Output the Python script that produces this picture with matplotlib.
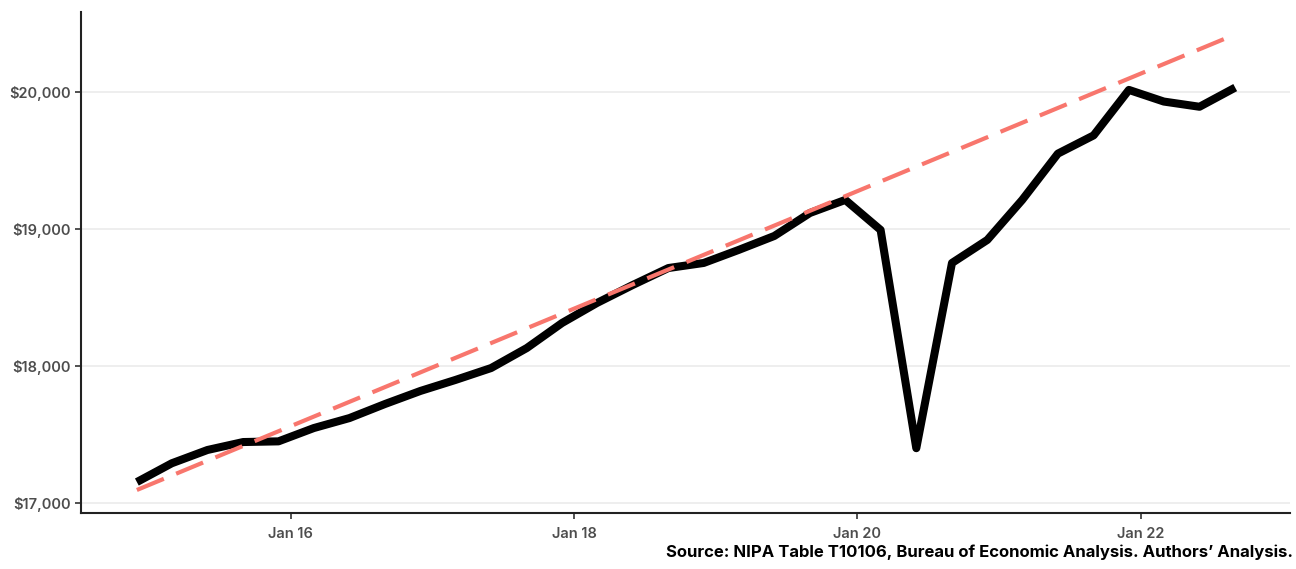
import pandas as pd
import matplotlib.pyplot as plt
import matplotlib.dates as mdates
from matplotlib.ticker import FuncFormatter

dates = pd.date_range("2014-12-01", periods=32, freq="3MS")
gdp = [17153, 17290, 17387, 17445, 17450, 17547, 17620, 17723,
       17818, 17898, 17985, 18131, 18314, 18460, 18591, 18715,
       18752, 18847, 18949, 19117, 19212, 18993, 17400, 18752,
       18920, 19212, 19550, 19683, 20015, 19930, 19892, 20032]

# pre-pandemic linear trend, drawn between first and last quarter
trend_ends = [17095, 20420]

plt.rcParams['font.family'] = ['Inter', 'DejaVu Sans']

fig = plt.figure(figsize=(12.96, 5.69), dpi=100)
ax = fig.add_axes([0.0625, 0.0984, 0.9325, 0.8806])

ax.plot(dates, gdp, color='black', linewidth=5.8, solid_joinstyle='round',
        solid_capstyle='butt', zorder=3)
ax.plot([dates[0], dates[-1]], trend_ends, color='#F8766D', linewidth=3,
        dashes=(7, 3.2), zorder=4)

ax.set_xlim(pd.Timestamp("2014-07-10"), pd.Timestamp("2023-01-19"))
ax.set_ylim(16927, 20584)

ax.set_yticks([17000, 18000, 19000, 20000])
ax.yaxis.set_major_formatter(FuncFormatter(lambda v, p: '${:,.0f}'.format(v)))
ax.set_xticks([pd.Timestamp(s) for s in ["2016-01-01", "2018-01-01", "2020-01-01", "2022-01-01"]])
ax.xaxis.set_major_formatter(mdates.DateFormatter("Jan %y"))

ax.grid(axis='y', color='#EBEBEB', linewidth=1.2)
ax.set_axisbelow(True)
for s in ['top', 'right']:
    ax.spines[s].set_visible(False)
for s in ['left', 'bottom']:
    ax.spines[s].set_linewidth(1.5)
    ax.spines[s].set_color('#222222')

ax.tick_params(axis='both', length=4, width=1.2, color='#333333',
               labelcolor='#4D4D4D', labelsize=10.5)
ax.tick_params(axis='x', pad=6)
for lab in ax.get_xticklabels() + ax.get_yticklabels():
    lab.set_fontweight('semibold')

fig.text(0.9975, 0.0155, "Source: NIPA Table T10106, Bureau of Economic Analysis. Authors\u2019 Analysis.",
         ha='right', va='bottom', fontsize=12, fontweight='bold', color='black')

plt.savefig('out.png', dpi=100)
